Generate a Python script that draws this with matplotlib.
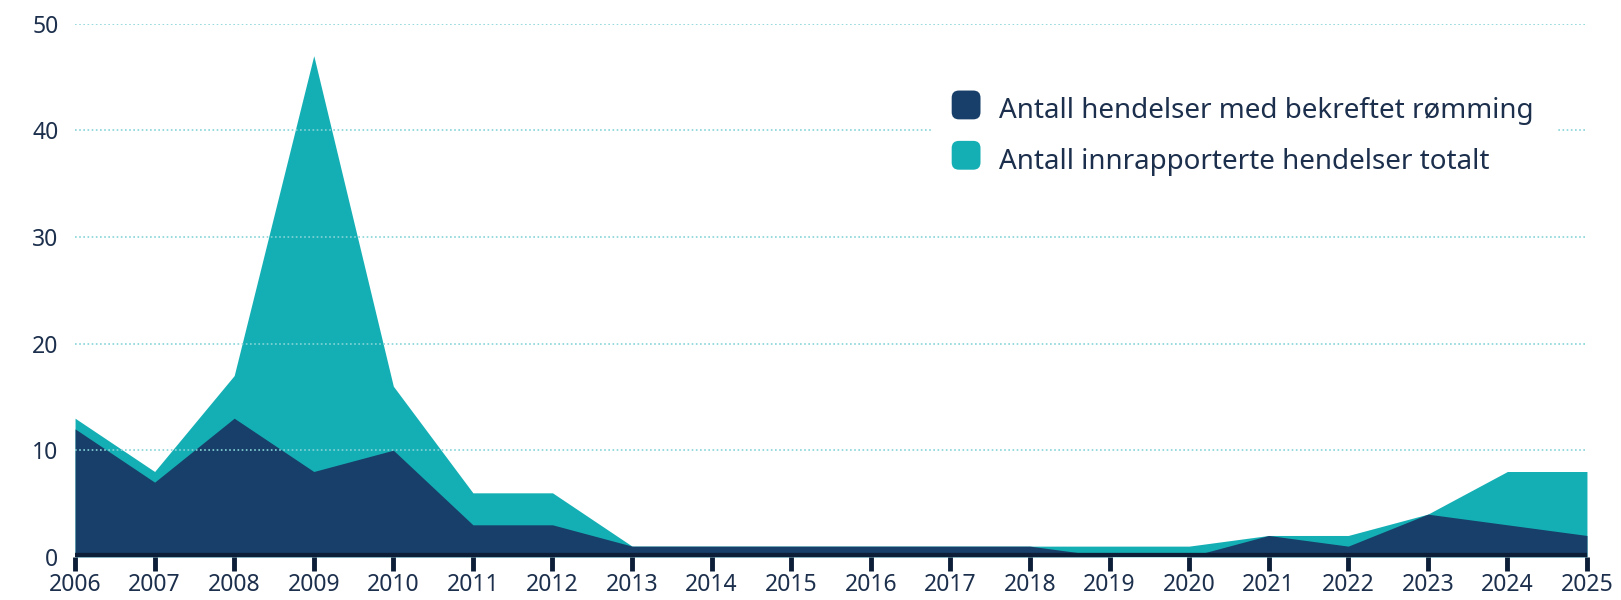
import matplotlib
matplotlib.use("Agg")
import matplotlib.pyplot as plt
from matplotlib.patches import FancyBboxPatch
from matplotlib.legend_handler import HandlerPatch

years = list(range(2006, 2026))
total = [13, 8, 17, 47, 16, 6, 6, 1, 1, 1, 1, 1, 1, 1, 1, 2, 2, 4, 8, 8]
confirmed = [12, 7, 13, 8, 10, 3, 3, 1, 1, 1, 1, 1, 1, 0, 0, 2, 1, 4, 3, 2]
labels = ["Antall hendelser med bekreftet rømming",
          "Antall innrapporterte hendelser totalt"]

navy = "#173f69"
teal = "#14afb4"
text_col = "#1c2f4c"

plt.rcParams['font.family'] = ['Noto Sans', 'DejaVu Sans']


class RoundBox(HandlerPatch):
    def create_artists(self, legend, orig, xd, yd, w, h, fontsize, trans):
        s = min(w, h) * 1.25
        p = FancyBboxPatch((xd + (w - s) / 2, yd + (h - s) / 2), s, s,
                           boxstyle="round,pad=0,rounding_size=%f" % (s * 0.25),
                           facecolor=orig.get_facecolor(), edgecolor="none",
                           transform=trans)
        return [p]


fig = plt.figure(figsize=(16.21, 6), dpi=100)
ax = fig.add_axes([0.0463, 0.072, 0.9327, 0.8885])

t = ax.fill_between(years, total, color=teal, lw=0, label=labels[1])
c = ax.fill_between(years, confirmed, color=navy, lw=0, label=labels[0])

ax.set_xlim(2006, 2025)
ax.set_ylim(0, 50)
ax.set_yticks([0, 10, 20, 30, 40, 50])
ax.set_xticks(years)

for v in [10, 20, 30, 40, 50]:
    ax.axhline(v, color="#86d4d8", lw=1.2, ls=(0, (1, 1.5)), zorder=3)
ax.axhline(0, color="#0d1e38", lw=6, zorder=4)

for s in ax.spines.values():
    s.set_visible(False)
ax.tick_params(axis='x', length=10, width=3.5, color="#0d1e38", labelsize=16.5,
               labelcolor=text_col, pad=2)
ax.tick_params(axis='y', length=0, labelsize=16.5, labelcolor=text_col, pad=12)

leg = ax.legend(handles=[c, t], labels=labels, loc='upper left',
                bbox_to_anchor=(0.566, 0.898), bbox_transform=fig.transFigure,
                frameon=True, facecolor="white", edgecolor="none", framealpha=1,
                fontsize=20, handlelength=0.9, handleheight=0.9, handletextpad=0.75,
                labelspacing=0.8, borderpad=0.8,
                handler_map={type(c): RoundBox()})
for txt in leg.get_texts():
    txt.set_color(text_col)
leg.set_zorder(5)

fig.savefig("out.png", dpi=100)
